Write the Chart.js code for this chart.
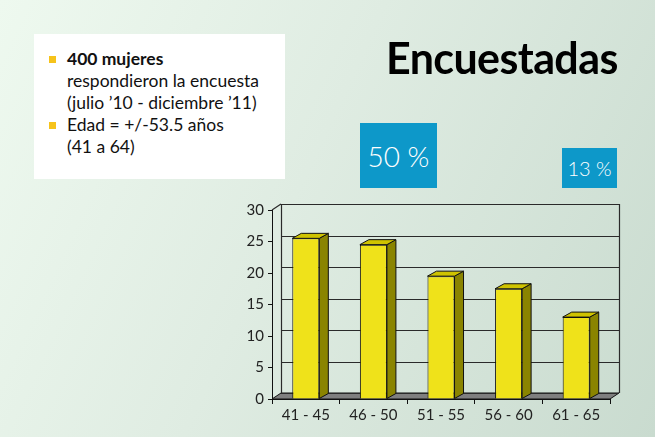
<!DOCTYPE html>
<html>
<head>
<meta charset="utf-8">
<script src="https://cdn.jsdelivr.net/npm/chart.js@4"></script>
<style>
  html, body { margin: 0; padding: 0; }
  body {
    width: 655px; height: 437px; overflow: hidden; position: relative;
    background: linear-gradient(115deg, #eef9ef 0%, #dfece2 45%, #c9dbcf 100%);
    font-family: 'Lato', 'DejaVu Sans', sans-serif;
  }
  #chart { position: absolute; left: 0; top: 0; }
  .note {
    position: absolute; left: 34px; top: 34px; width: 251px; height: 145px;
    background: #fff; color: #111; font-size: 17.5px; line-height: 22px;
  }
  .note ul { list-style: none; margin: 0; padding: 14px 0 0 33px; }
  .note li { position: relative; }
  .note li::before {
    content: ''; position: absolute; left: -18px; top: 8px;
    width: 7px; height: 7px; background: #f6c31b;
  }
  .title {
    position: absolute; left: 386px; top: 32px; font-size: 43px; font-weight: 700;
    color: #000; letter-spacing: -0.6px;
  }
  .pct {
    position: absolute; background: #0d98c9; color: #fff; font-weight: 300;
    display: flex; align-items: center; justify-content: center;
  }
</style>
</head>
<body>
<canvas id="chart" width="655" height="437"></canvas>
<div class="note">
  <ul>
    <li><b>400 mujeres</b><br>respondieron la encuesta<br>(julio ’10 - diciembre ’11)</li>
    <li>Edad = +/-53.5 años<br>(41 a 64)</li>
  </ul>
</div>
<div class="title">Encuestadas</div>
<div class="pct" style="left:360px;top:123px;width:77px;height:65px;font-size:28px;">50 %</div>
<div class="pct" style="left:562px;top:148px;width:55px;height:40px;font-size:20px;">13 %</div>
<script>
const ageGroups = ['41 - 45', '46 - 50', '51 - 55', '56 - 60', '61 - 65'];
const womenPct = [25.5, 24.5, 19.5, 17.5, 13];
const yTicks = [0, 5, 10, 15, 20, 25, 30];

// depth offsets for the fake 3d look
const wallDX = 9, wallDY = -6;
const barDX = 9, barDY = -5;

const fake3d = {
    id: 'fake3d',
    beforeDatasetsDraw(chart) {
        const ctx = chart.ctx;
        const area = chart.chartArea;
        const y = chart.scales.y;
        const y0 = y.getPixelForValue(0);
        ctx.save();
        ctx.lineWidth = 1;
        ctx.strokeStyle = '#111';
        // floor
        ctx.fillStyle = '#7f7f7f';
        ctx.beginPath();
        ctx.moveTo(area.left, y0);
        ctx.lineTo(area.right, y0);
        ctx.lineTo(area.right + wallDX, y0 + wallDY);
        ctx.lineTo(area.left + wallDX, y0 + wallDY);
        ctx.closePath();
        ctx.fill();
        ctx.stroke();
        // back wall gridlines
        ctx.strokeStyle = '#2a2a2a';
        ctx.lineWidth = 1.2;
        yTicks.forEach((v) => {
            const py = Math.round(y.getPixelForValue(v) + wallDY) + 0.5;
            ctx.beginPath();
            ctx.moveTo(area.left + wallDX, py);
            ctx.lineTo(area.right + wallDX, py);
            ctx.stroke();
        });
        // walls edges
        const top = y.getPixelForValue(30);
        ctx.beginPath();
        ctx.moveTo(area.left + wallDX + 0.5, top + wallDY);
        ctx.lineTo(area.left + wallDX + 0.5, y0 + wallDY);
        ctx.moveTo(area.right + wallDX + 0.5, top + wallDY);
        ctx.lineTo(area.right + wallDX + 0.5, y0 + wallDY);
        ctx.moveTo(area.left, top);
        ctx.lineTo(area.left + wallDX, top + wallDY);
        ctx.stroke();
        ctx.restore();
    },
    afterDatasetsDraw(chart) {
        const ctx = chart.ctx;
        const meta = chart.getDatasetMeta(0);
        ctx.save();
        ctx.lineWidth = 1;
        ctx.strokeStyle = '#111';
        meta.data.forEach((bar) => {
            const l = bar.x - bar.width / 2;
            const r = bar.x + bar.width / 2;
            const t = bar.y;
            const b = bar.base;
            // side
            ctx.fillStyle = '#8a8400';
            ctx.beginPath();
            ctx.moveTo(r, t);
            ctx.lineTo(r + barDX, t + barDY);
            ctx.lineTo(r + barDX, b + barDY);
            ctx.lineTo(r, b);
            ctx.closePath();
            ctx.fill();
            ctx.stroke();
            // top
            ctx.fillStyle = '#cfc300';
            ctx.beginPath();
            ctx.moveTo(l, t);
            ctx.lineTo(l + barDX, t + barDY);
            ctx.lineTo(r + barDX, t + barDY);
            ctx.lineTo(r, t);
            ctx.closePath();
            ctx.fill();
            ctx.stroke();
        });
        ctx.restore();
    }
};

new Chart(document.getElementById('chart'), {
    type: 'bar',
    data: {
        labels: ageGroups,
        datasets: [{
            data: womenPct,
            backgroundColor: '#efe21a',
            borderColor: '#111',
            borderWidth: 1,
            categoryPercentage: 1,
            barPercentage: 0.4,
        }]
    },
    options: {
        responsive: false,
        animation: false,
        layout: { padding: { left: 232, top: 210, right: 45, bottom: 10 } },
        plugins: { legend: { display: false }, tooltip: { enabled: false } },
        scales: {
            x: {
                grid: { drawOnChartArea: false, color: '#111', tickLength: 5 },
                border: { color: '#111' },
                ticks: { color: '#222', font: { family: 'Lato', size: 15 }, padding: 2 },
                afterFit(s) { s.height = 28; }
            },
            y: {
                min: 0, max: 30,
                afterBuildTicks(s) { s.ticks = yTicks.map((v) => ({ value: v })); },
                grid: { drawOnChartArea: false, color: '#111', tickLength: 4 },
                border: { color: '#111' },
                ticks: { color: '#222', font: { family: 'Lato', size: 15 }, padding: 4 },
                afterFit(s) { s.width = 40; }
            }
        }
    },
    plugins: [fake3d]
});
</script>
</body>
</html>
